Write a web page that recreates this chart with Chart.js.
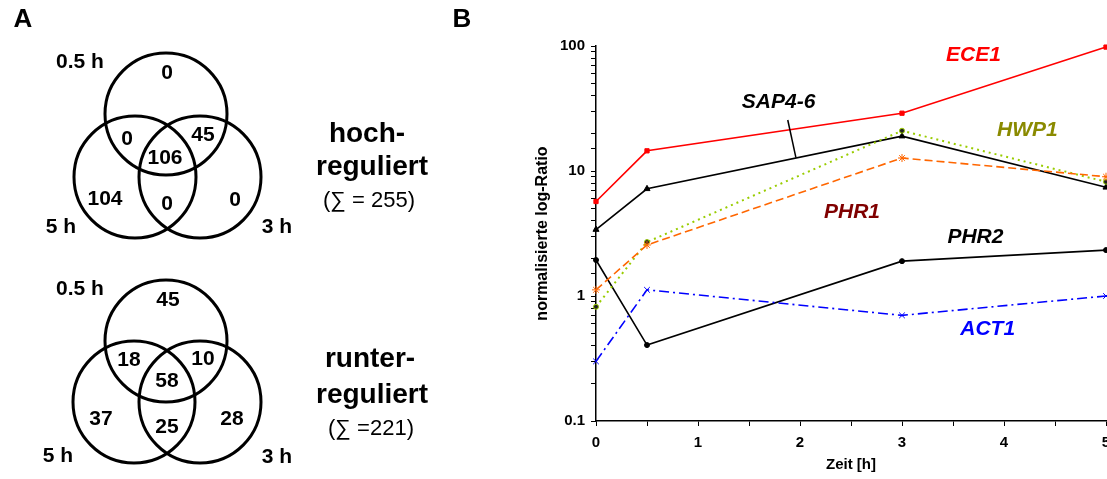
<!DOCTYPE html>
<html>
<head>
<meta charset="utf-8">
<script src="https://cdn.jsdelivr.net/npm/chart.js@4"></script>
<style>
  html, body { margin: 0; padding: 0; background: #fff; overflow: hidden; width: 1107px; height: 479px; }
  #venn { position: absolute; left: 0; top: 0; }
  #lines { position: absolute; left: 500px; top: 0; }
</style>
</head>
<body>
<canvas id="venn" width="500" height="479"></canvas>
<canvas id="lines" width="650" height="479"></canvas>
<script>
// ---- Daten Panel B (Zeitverlauf) ----
const times = [0, 0.5, 3, 5];
const ece1 = [5.7, 14.5, 29, 98];
const sap46 = [3.4, 7.2, 19, 7.4];
const hwp1 = [0.82, 2.7, 21, 8.2];
const phr1 = [1.12, 2.56, 12.7, 9.0];
const phr2 = [1.94, 0.405, 1.9, 2.33];
const act1 = [0.30, 1.12, 0.70, 1.0];
const yTickLabels = [0.1, 1, 10, 100];
const xTickLabels = [0, 1, 2, 3, 4, 5];

// ---- Daten Panel A (Venn) ----
// Reihenfolge: nur 0.5 h, nur 5 h, nur 3 h, 0.5+5, 0.5+3, 5+3, alle drei
const setLabels = ['0.5 h', '5 h', '3 h'];
const upCounts = [0, 104, 0, 0, 45, 0, 106];
const downCounts = [45, 37, 28, 18, 10, 25, 58];
const upTitle = ['hoch-', 'reguliert', '(\u2211 = 255)'];
const downTitle = ['runter-', 'reguliert', '(\u2211 =221)'];

// ---- Layout Panel A (Pixelkoordinaten der Skala) ----
const upPos = [[167, 73], [105, 199], [235, 200], [127, 139], [203, 135], [167, 204], [165, 158]];
const downPos = [[168, 300], [101, 419], [232, 419], [129, 360], [203, 359], [167, 427], [167, 381]];
const upCircles = [[166, 114], [135, 177], [200, 177]];
const downCircles = [[166, 341], [134, 402], [200, 402]];
const circleR = 61;
const upSetPos = [[80, 62], [61, 227], [277, 227]];
const downSetPos = [[80, 289], [58, 456], [277, 457]];
const upTitlePos = [[367, 142], [372, 175], [369, 207]];
const downTitlePos = [[370, 367], [372, 403], [371, 435]];

const FONT = '"Liberation Sans", Arial, sans-serif';

const vennPlugin = {
  id: 'vennPlugin',
  afterDatasetsDraw(chart) {
    const { ctx } = chart;
    const x = chart.scales.x, y = chart.scales.y;
    ctx.save();
    // Kreise
    ctx.lineWidth = 3;
    ctx.strokeStyle = '#000';
    [upCircles, downCircles].forEach((circles) => {
      circles.forEach((c) => {
        const cx = x.getPixelForValue(c[0]);
        const cy = y.getPixelForValue(c[1]);
        const r = x.getPixelForValue(c[0] + circleR) - cx;
        ctx.beginPath();
        ctx.arc(cx, cy, r, 0, Math.PI * 2);
        ctx.stroke();
      });
    });
    // Zahlen in den Regionen
    ctx.fillStyle = '#000';
    ctx.textAlign = 'center';
    ctx.textBaseline = 'middle';
    ctx.font = 'bold 21px ' + FONT;
    chart.data.datasets.forEach((ds, i) => {
      chart.getDatasetMeta(i).data.forEach((pt, j) => {
        ctx.fillText(String(ds.data[j].n), pt.x, pt.y);
      });
    });
    // Mengen-Beschriftung
    [upSetPos, downSetPos].forEach((pos) => {
      pos.forEach((p, k) => {
        ctx.fillText(setLabels[k], x.getPixelForValue(p[0]), y.getPixelForValue(p[1]));
      });
    });
    // Titel rechts
    ctx.textBaseline = 'alphabetic';
    [[upTitle, upTitlePos], [downTitle, downTitlePos]].forEach(([lines, pos]) => {
      lines.forEach((t, k) => {
        ctx.font = (k < 2 ? 'bold 28px ' : '22px ') + FONT;
        ctx.fillText(t, x.getPixelForValue(pos[k][0]), y.getPixelForValue(pos[k][1]));
      });
    });
    // Panelbuchstaben
    ctx.font = 'bold 26px ' + FONT;
    ctx.textBaseline = 'middle';
    ctx.fillText('A', x.getPixelForValue(23), y.getPixelForValue(20));
    ctx.fillText('B', x.getPixelForValue(462), y.getPixelForValue(20));
    ctx.restore();
  }
};

new Chart(document.getElementById('venn'), {
  type: 'scatter',
  data: {
    datasets: [
      { label: 'hoch', data: upPos.map((p, j) => ({ x: p[0], y: p[1], n: upCounts[j] })), pointRadius: 0 },
      { label: 'runter', data: downPos.map((p, j) => ({ x: p[0], y: p[1], n: downCounts[j] })), pointRadius: 0 },
    ],
  },
  options: {
    responsive: false,
    animation: false,
    devicePixelRatio: 1,
    layout: { padding: 0 },
    plugins: { legend: { display: false }, tooltip: { enabled: false } },
    scales: {
      x: { type: 'linear', min: 0, max: 500, display: false },
      y: { type: 'linear', min: 0, max: 479, reverse: true, display: false },
    },
  },
  plugins: [vennPlugin],
});

// ---- Panel B ----
const geneLabels = [
  { text: 'ECE1', x: 3.70, y: 84, color: '#ff0000' },
  { text: 'SAP4-6', x: 1.79, y: 35.6, color: '#000000' },
  { text: 'HWP1', x: 4.23, y: 21.3, color: '#8a8a00' },
  { text: 'PHR1', x: 2.51, y: 4.7, color: '#800000' },
  { text: 'PHR2', x: 3.72, y: 2.96, color: '#000000' },
  { text: 'ACT1', x: 3.84, y: 0.545, color: '#0000ff' },
];

const labelPlugin = {
  id: 'labelPlugin',
  afterDatasetsDraw(chart) {
    const { ctx } = chart;
    const x = chart.scales.x, y = chart.scales.y;
    ctx.save();
    ctx.textAlign = 'center';
    ctx.textBaseline = 'middle';
    ctx.font = 'italic bold 21px ' + FONT;
    geneLabels.forEach((l) => {
      ctx.fillStyle = l.color;
      ctx.fillText(l.text, x.getPixelForValue(l.x), y.getPixelForValue(l.y));
    });
    // Hinweislinie SAP4-6
    ctx.strokeStyle = '#000';
    ctx.lineWidth = 1.5;
    ctx.beginPath();
    ctx.moveTo(x.getPixelForValue(1.88), y.getPixelForValue(25.6));
    ctx.lineTo(x.getPixelForValue(1.96), y.getPixelForValue(12.8));
    ctx.stroke();
    ctx.restore();
  }
};

const series = (label, values, color, extra) => Object.assign({
  label: label,
  data: times.map((t, i) => ({ x: t, y: values[i] })),
  showLine: true,
  borderColor: color,
  backgroundColor: color,
  borderWidth: 1.6,
  pointBorderWidth: 1,
  clip: false,
}, extra);

new Chart(document.getElementById('lines'), {
  type: 'scatter',
  data: {
    datasets: [
      series('ACT1', act1, '#0000ff', { borderDash: [10, 4, 2, 4], pointStyle: 'crossRot', pointRadius: 4 }),
      series('PHR1', phr1, '#ff6600', { borderDash: [8, 4], pointStyle: 'star', pointRadius: 4 }),
      series('HWP1', hwp1, '#99cc00', { borderDash: [2, 4], borderWidth: 2, pointStyle: 'circle', pointRadius: 2.5, pointBackgroundColor: '#222' }),
      series('PHR2', phr2, '#000000', { pointStyle: 'circle', pointRadius: 2.5 }),
      series('SAP4-6', sap46, '#000000', { pointStyle: 'triangle', pointRadius: 3.5 }),
      series('ECE1', ece1, '#ff0000', { pointStyle: 'rect', pointRadius: 3 }),
    ],
  },
  options: {
    responsive: false,
    animation: false,
    devicePixelRatio: 1,
    layout: { padding: { top: 46, right: 44, left: 0, bottom: 0 } },
    plugins: { legend: { display: false }, tooltip: { enabled: false } },
    scales: {
      x: {
        type: 'linear', min: 0, max: 5,
        afterFit: (s) => { s.height = 58; },
        grid: { drawOnChartArea: false, drawTicks: true, tickLength: 5, color: '#000' },
        border: { display: true, color: '#000', width: 1.5 },
        ticks: {
          stepSize: 0.5, autoSkip: false, maxRotation: 0, padding: 8, color: '#000',
          font: { family: FONT, size: 15, weight: 'bold' },
          callback: (v) => (xTickLabels.includes(v) ? String(v) : ''),
        },
        title: { display: true, text: 'Zeit [h]', color: '#000', font: { family: FONT, size: 15, weight: 'bold' }, padding: { top: 0, bottom: 5 } },
      },
      y: {
        type: 'logarithmic', min: 0.1, max: 100,
        afterFit: (s) => { s.width = 96; },
        grid: { drawOnChartArea: false, drawTicks: true, tickLength: 5, color: '#000' },
        border: { display: true, color: '#000', width: 1.5 },
        ticks: {
          autoSkip: false, padding: 6, color: '#000',
          font: { family: FONT, size: 15, weight: 'bold' },
          callback: (v) => {
            const t = yTickLabels.find((k) => Math.abs(k - v) / k < 1e-6);
            return t === undefined ? '' : String(t);
          },
        },
        title: { display: true, text: 'normalisierte log-Ratio', color: '#000', font: { family: FONT, size: 16, weight: 'bold' }, padding: { top: 33, bottom: 0 } },
      },
    },
  },
  plugins: [labelPlugin],
});
</script>
</body>
</html>
